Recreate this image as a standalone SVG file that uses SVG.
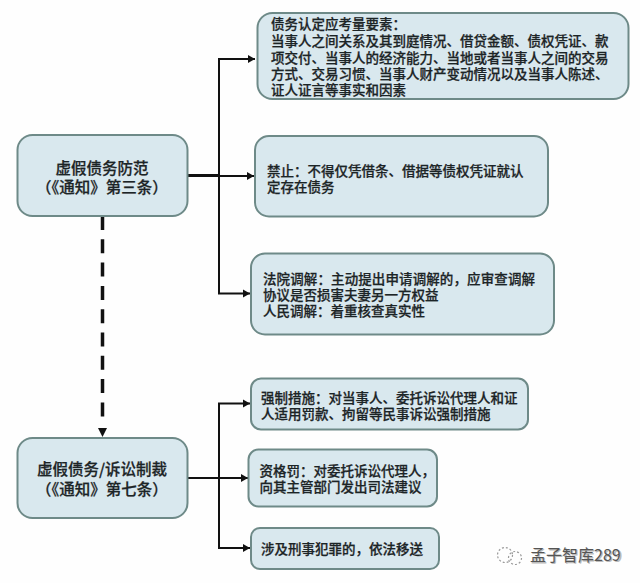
<svg xmlns="http://www.w3.org/2000/svg" width="640" height="583" viewBox="0 0 640 583">
<style>
.box{fill:#d9e8ee;stroke:#6e8a88;stroke-width:2}
text{font-family:"Noto Sans CJK SC","Noto Sans",sans-serif;fill:#1c2426;stroke:#1c2426;stroke-width:.25;font-size:13.5px;font-weight:500}
.c{text-anchor:middle;font-size:15.500px}
.ln{fill:none;stroke:#111;stroke-width:2}
</style>
<defs>
<marker id="ah" markerUnits="userSpaceOnUse" markerWidth="8" markerHeight="10" refX="7" refY="5" orient="auto"><path d="M0 1L7 5L0 9Z" fill="#111"/></marker>
</defs>
<rect width="640" height="583" fill="#fefefe"/>
<g id="connectors">
<path class="ln" d="M183 175.500H219" style="stroke-width:3"/>
<path class="ln" d="M219 175.500V59H255" marker-end="url(#ah)"/>
<path class="ln" d="M219 176H254" marker-end="url(#ah)"/>
<path class="ln" d="M219 175.500V293.500H250" marker-end="url(#ah)"/>
<path class="ln" d="M102.500 216V418" style="stroke-width:3.500;stroke-dasharray:14 9.300"/>
<path d="M98 428H107L102.500 437Z" fill="#111"/>
<path class="ln" d="M188 478H219"/>
<path class="ln" d="M219 478V403.500H250" marker-end="url(#ah)"/>
<path class="ln" d="M219 478H248" marker-end="url(#ah)"/>
<path class="ln" d="M219 478V548H250" marker-end="url(#ah)"/>
</g>
<g id="n1"><rect class="box" x="17.500" y="135" width="170" height="81" rx="15"/>
<text class="c" x="102" y="174">虚假债务防范</text><text class="c" x="102" y="193">（《通知》第三条）</text></g>
<g id="n2"><rect class="box" x="17.500" y="438" width="170" height="80" rx="15"/>
<text class="c" x="102" y="475">虚假债务/诉讼制裁</text><text class="c" x="102" y="495">（《通知》第七条）</text></g>
<g id="a1"><rect class="box" x="257.500" y="13" width="371" height="86" rx="15"/>
<text x="271" y="29">债务认定应考量要素：</text>
<text x="271" y="46">当事人之间关系及其到庭情况、借贷金额、债权凭证、款</text>
<text x="271" y="63">项交付、当事人的经济能力、当地或者当事人之间的交易</text>
<text x="271" y="79">方式、交易习惯、当事人财产变动情况以及当事人陈述、</text>
<text x="271" y="95">证人证言等事实和因素</text></g>
<g id="a2"><rect class="box" x="255" y="136" width="293" height="80.500" rx="14"/>
<text x="267" y="176">禁止：不得仅凭借条、借据等债权凭证就认</text>
<text x="267" y="192">定存在债务</text></g>
<g id="a3"><rect class="box" x="251" y="253.500" width="303" height="81" rx="14"/>
<text x="263" y="284" textLength="272">法院调解：主动提出申请调解的，应审查调解</text>
<text x="263" y="300">协议是否损害夫妻另一方权益</text>
<text x="263" y="316">人民调解：着重核查真实性</text></g>
<g id="b1"><rect class="box" x="251" y="378.500" width="277" height="51" rx="10"/>
<text x="261" y="403">强制措施：对当事人、委托诉讼代理人和证</text>
<text x="261" y="419">人适用罚款、拘留等民事诉讼强制措施</text></g>
<g id="b2"><rect class="box" x="248.500" y="449.500" width="188.500" height="57" rx="10"/>
<text x="259.500" y="476">资格罚：对委托诉讼代理人，</text>
<text x="259.500" y="492">向其主管部门发出司法建议</text></g>
<g id="b3"><rect class="box" x="251" y="528" width="188" height="41" rx="9"/>
<text x="261" y="554">涉及刑事犯罪的，依法移送</text></g>
<g id="watermark">
<circle cx="505" cy="555" r="7.500" fill="none" stroke="#9a9a9a" stroke-width="1.200" stroke-dasharray="2 2"/>
<circle cx="515" cy="558" r="6.500" fill="none" stroke="#9a9a9a" stroke-width="1.200" stroke-dasharray="2 2"/>
<text x="530" y="561" style="font-size:16px;fill:#bbb;stroke:none" dx="1" dy="1">孟子智库289</text>
<text x="530" y="561" style="font-size:16px;fill:#555;stroke:none;font-weight:400">孟子智库289</text>
</g>
</svg>
